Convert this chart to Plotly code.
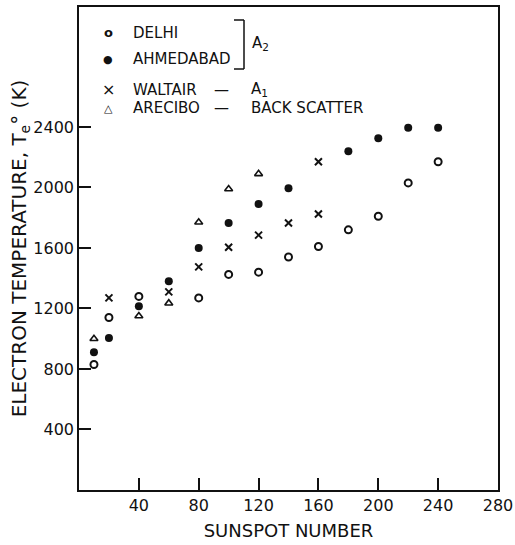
import plotly.graph_objects as go

# Sunspot numbers and electron temperatures (K)
delhi_x = [10, 20, 40, 80, 100, 120, 140, 160, 180, 200, 220, 240]
delhi_y = [830, 1140, 1280, 1270, 1425, 1440, 1540, 1610, 1720, 1810, 2030, 2170]

ahmedabad_x = [10, 20, 40, 60, 80, 100, 120, 140, 180, 200, 220, 240]
ahmedabad_y = [910, 1005, 1215, 1380, 1600, 1765, 1890, 1995, 2240, 2325, 2395, 2395]

waltair_x = [20, 60, 80, 100, 120, 140, 160, 160]
waltair_y = [1270, 1310, 1475, 1605, 1685, 1765, 1825, 2170]

arecibo_x = [10, 40, 60, 80, 100, 120]
arecibo_y = [1000, 1150, 1235, 1770, 1990, 2090]

x_ticks = [40, 80, 120, 160, 200, 240, 280]
y_ticks = [400, 800, 1200, 1600, 2000, 2400]

legend_names = ["DELHI", "AHMEDABAD", "WALTAIR", "ARECIBO"]
legend_glyphs = ["<b>o</b>", "●", "×", "△"]
legend_notes = ["", "", "A<sub>1</sub>", "BACK SCATTER"]
group_label = "A<sub>2</sub>"

FONT = "DejaVu Sans"
INK = "#111111"

# plot-area geometry (window pixels -> paper fractions)
W, H = 515, 545
PL, PR, PT, PB = 79, 498, 7, 490
def px(x):
    return (x - PL) / (PR - PL)
def py(y):
    return (PB - y) / (PB - PT)

fig = go.Figure()
fig.add_trace(go.Scatter(
    x=delhi_x, y=delhi_y, mode="markers", name=legend_names[0],
    marker=dict(symbol="circle-open", size=7, color=INK, line=dict(width=2, color=INK))))
fig.add_trace(go.Scatter(
    x=ahmedabad_x, y=ahmedabad_y, mode="markers", name=legend_names[1],
    marker=dict(symbol="circle", size=8, color=INK)))
fig.add_trace(go.Scatter(
    x=waltair_x, y=waltair_y, mode="markers", name=legend_names[2],
    marker=dict(symbol="x-thin-open", size=7, color=INK, line=dict(width=2, color=INK))))
fig.add_trace(go.Scatter(
    x=arecibo_x, y=arecibo_y, mode="markers", name=legend_names[3],
    marker=dict(symbol="triangle-up-open", size=7, color=INK, line=dict(width=1.6, color=INK))))

# hand-lettered key inside the plot
row_y = [33, 59, 90, 108]
glyph_size = [13, 11, 16, 11]
for name, glyph, note, ry, gs in zip(legend_names, legend_glyphs, legend_notes, row_y, glyph_size):
    fig.add_annotation(x=px(108), y=py(ry), xref="paper", yref="paper", text=glyph,
                       showarrow=False, xanchor="center", yanchor="middle",
                       font=dict(family=FONT, size=gs, color=INK))
    fig.add_annotation(x=px(131), y=py(ry), xref="paper", yref="paper", text=name,
                       showarrow=False, xanchor="left", yanchor="middle",
                       font=dict(family=FONT, size=15, color=INK))
    if note:
        fig.add_annotation(x=px(221), y=py(ry), xref="paper", yref="paper", text="—",
                           showarrow=False, xanchor="center", yanchor="middle",
                           font=dict(family=FONT, size=15, color=INK))
        fig.add_annotation(x=px(249), y=py(ry), xref="paper", yref="paper", text=note,
                           showarrow=False, xanchor="left", yanchor="middle",
                           font=dict(family=FONT, size=15, color=INK))

# bracket grouping Delhi & Ahmedabad as A2
bx0, bx1, by0, by1 = px(234), px(244), py(69), py(20)
for s in [dict(x0=bx1, x1=bx1, y0=by0, y1=by1),
          dict(x0=bx0, x1=bx1, y0=by1, y1=by1),
          dict(x0=bx0, x1=bx1, y0=by0, y1=by0)]:
    fig.add_shape(type="line", xref="paper", yref="paper",
                  line=dict(color=INK, width=1.5), **s)
fig.add_annotation(x=px(250), y=py(44), xref="paper", yref="paper", text=group_label,
                   showarrow=False, xanchor="left", yanchor="middle",
                   font=dict(family=FONT, size=15, color=INK))

fig.update_layout(
    width=W, height=H,
    margin=dict(l=PL, r=W - PR, t=PT, b=H - PB, autoexpand=False),
    plot_bgcolor="white", paper_bgcolor="white",
    font=dict(family=FONT, size=16, color=INK),
    showlegend=False,
    hovermode=False,
    xaxis=dict(range=[0, 280], tickvals=x_ticks, ticks="inside", ticklen=12,
               tickwidth=1.5, tickcolor=INK, showline=True, linecolor=INK, linewidth=1.5,
               mirror=True, showgrid=False, zeroline=False,
               tickfont=dict(family=FONT, size=16, color=INK),
               title=dict(text="SUNSPOT NUMBER", standoff=10,
                          font=dict(family=FONT, size=18, color=INK))),
    yaxis=dict(range=[0, 3193], tickvals=y_ticks, ticks="inside", ticklen=12,
               tickwidth=1.5, tickcolor=INK, showline=True, linecolor=INK, linewidth=1.5,
               mirror=True, showgrid=False, zeroline=False,
               tickfont=dict(family=FONT, size=16, color=INK),
               title=dict(text="ELECTRON TEMPERATURE, T<sub>e</sub>° (K)", standoff=0,
                          font=dict(family=FONT, size=20, color=INK))),
)

# let the figure occupy the whole 515x545 window (no default page margin / scrollbars)
fig.write_html(
    "out.html",
    config={"displayModeBar": False},
    post_script="document.body.style.margin='0';"
                "document.documentElement.style.overflow='hidden';"
                "document.body.style.overflow='hidden';",
)
